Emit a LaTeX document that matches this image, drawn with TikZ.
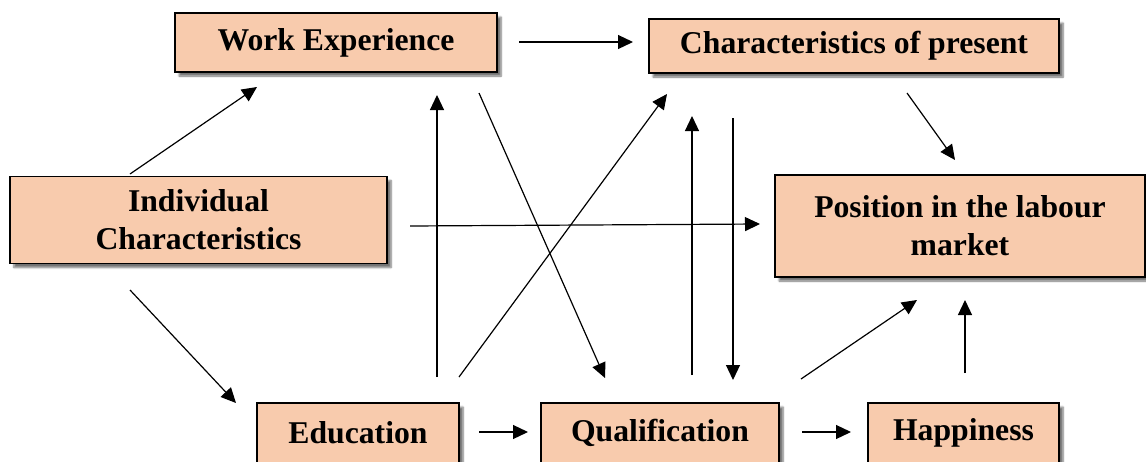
\documentclass[tikz,border=0pt]{standalone}
\usepackage{fontspec}
\setmainfont{Liberation Serif}
\usetikzlibrary{arrows.meta,shadows.blur}
\definecolor{boxfill}{HTML}{F8CBAD}

\begin{document}
\begin{tikzpicture}[x=1pt, y=-1pt,
    factor/.style={rectangle, draw, line width=1.3pt, fill=boxfill, align=center, inner sep=0pt,
        font=\fontsize{31.7}{38}\selectfont\bfseries,
        blur shadow={shadow xshift=4pt, shadow yshift=-4pt, shadow blur steps=6, shadow opacity=55}},
    link/.style={-{Triangle[length=15pt,width=14pt]}, line width=1.2pt}]
        \useasboundingbox (0,0) rectangle (1146,461);

        % Top row
        \node[factor, minimum width=322pt, minimum height=59pt] (work) at (336,42.5) {Work Experience};
        \node[factor, minimum width=410pt, minimum height=54pt] (present) at (854,46) {Characteristics of present};

        % Middle row
        \node[factor, minimum width=377pt, minimum height=87pt] (indiv) at (198.5,220) {Individual\\Characteristics};
        \node[factor, minimum width=370pt, minimum height=102pt] (position) at (960,226) {Position in the labour\\market};

        % Bottom row
        \node[factor, minimum width=202pt, minimum height=60pt] (educ) at (358,433) {Education};
        \node[factor, minimum width=238pt, minimum height=60pt] (qual) at (660,433) {Qualification};
        \node[factor, minimum width=191pt, minimum height=60pt] (happy) at (963.5,433) {Happiness};

        % Arrow ends
        \coordinate (i1) at (130,174);  \coordinate (w1) at (257,87);
        \coordinate (w2) at (519,42);   \coordinate (p1) at (633,42);
        \coordinate (p2) at (907,93);   \coordinate (m1) at (955,160);
        \coordinate (i2) at (410,226);  \coordinate (m2) at (760,224);
        \coordinate (e1) at (437,377);  \coordinate (w3) at (437,95);
        \coordinate (w4) at (479,93);   \coordinate (q1) at (605,378);
        \coordinate (e2) at (459,377);  \coordinate (p3) at (667,94);
        \coordinate (q2) at (692,375);  \coordinate (p4) at (692,116);
        \coordinate (p5) at (733,118);  \coordinate (q3) at (733,380);
        \coordinate (e3) at (479,432);  \coordinate (q4) at (528,432);
        \coordinate (q5) at (802,432);  \coordinate (h1) at (851,432);
        \coordinate (q6) at (801,379);  \coordinate (m3) at (917,300);
        \coordinate (h2) at (965,373);  \coordinate (m4) at (965,300);
        \coordinate (i3) at (130,290);  \coordinate (e4) at (236,403);

        % Connect the factors
        \foreach \a/\b in {i1/w1, w2/p1, p2/m1, i2/m2, e1/w3, w4/q1, e2/p3,
                           q2/p4, p5/q3, e3/q4, q5/h1, q6/m3, h2/m4, i3/e4} {
            \draw[link] (\a) -- (\b);
        }
    \end{tikzpicture}
\end{document}
